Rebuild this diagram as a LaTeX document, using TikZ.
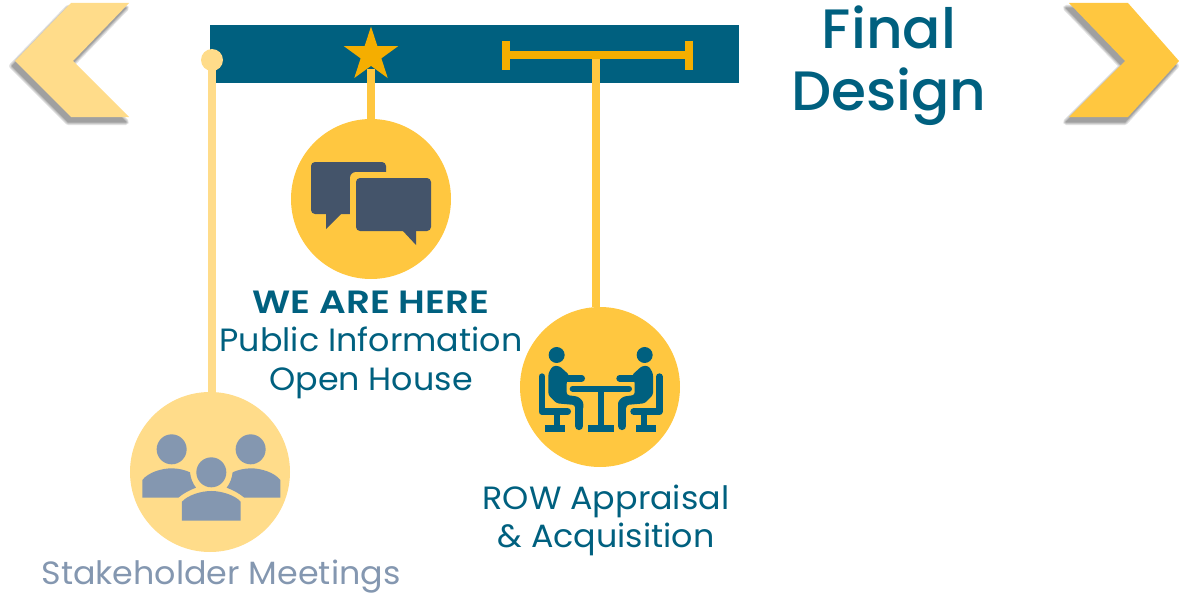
\documentclass[tikz,border=0pt]{standalone}
\usepackage{fontspec}
\setmainfont{Poppins}
\newfontfamily\bodyfont[FakeStretch=1.035]{Poppins}
\newfontfamily\strongfont[FakeStretch=1.16]{Poppins SemiBold}
\newfontfamily\headfont[FakeStretch=1.02]{Poppins Medium}
\usetikzlibrary{shapes.geometric}
\definecolor{teal}{HTML}{00607F}
\definecolor{gold}{HTML}{FFC740}
\definecolor{pale}{HTML}{FFDC8A}
\definecolor{amber}{HTML}{F5AE00}
\definecolor{slate}{HTML}{44546A}
\definecolor{steel}{HTML}{8497B0}
\tikzset{
  disc/.style={circle,fill=#1,minimum size=160pt,inner sep=0,outer sep=0},
  stem/.style={line width=8pt,draw=#1},
  label/.style={align=center,text=teal,inner sep=0,font=\fontsize{32.2}{38.5}\selectfont\bodyfont},
  person/.style={draw=teal,line cap=round,line join=round},
}
\newcommand{\chevshadow}[1]{%
  \foreach \w in {6,4,2,0.5}{%
    \begin{scope}[transparency group,opacity=0.11]
      \filldraw[line width=\w pt,draw=black,fill=black,line join=round] #1;
    \end{scope}}}
\newcommand{\seated}{%
  \fill[teal] (140,165) circle (24);
  \fill[teal,rounded corners=2.5pt] (115,220) -- (128,198) -- (148,198) -- (178,225) -- (170,245) -- (170,285) -- (205,290) -- (220,305) -- (220,330) -- (195,330) -- (195,315) -- (140,310) -- (115,285) -- cycle;
  \draw[person,line width=6.7pt] (172,235) -- (215,235);
  \draw[person,line width=8.3pt] (207.5,312) -- (207.5,378);
  \draw[person,line width=6.7pt] (96,230) -- (96,335) -- (173,335);
  \draw[teal,line width=5.7pt] (141.5,340) -- (141.5,380);
  \fill[teal] (105,375) rectangle (165,395);
}
\begin{document}
\begin{tikzpicture}[x=1pt,y=-1pt]
\useasboundingbox (0,0) rectangle (1179,594);
% chevrons
\begin{scope}[shift={(-3,5)}]
  \chevshadow{(71,3) -- (129,3) -- (73,61) -- (129,117) -- (71,117) -- (15,61) -- cycle}
\end{scope}
\fill[pale] (71,3) -- (129,3) -- (73,61) -- (129,117) -- (71,117) -- (15,61) -- cycle;
\begin{scope}[shift={(-3,5)}]
  \chevshadow{(1069,3) -- (1128,3) -- (1179,61) -- (1128,117) -- (1069,117) -- (1125,61) -- cycle}
\end{scope}
\fill[gold] (1069,3) -- (1128,3) -- (1179,61) -- (1128,117) -- (1069,117) -- (1125,61) -- cycle;
% timeline bar
\fill[teal] (210,25) rectangle (739,83);
% discs
\node[disc=pale] (meet) at (210,472) {};
\node[disc=gold] (open) at (371,199) {};
\node[disc=gold] (row) at (600,387) {};
% markers
\node[circle,fill=pale,minimum size=22pt,inner sep=0] (dot) at (212,60) {};
\node[star,star points=5,star point ratio=2.618,fill=amber,minimum size=57pt,inner sep=0,outer sep=0] (starm) at (371,55) {};
\coordinate (hub) at (596,59);
\coordinate (capl) at (506,55);
\coordinate (capr) at (689,55);
\coordinate (starfoot) at (371,69);
% connectors
\draw[stem=pale] (dot.center) -- (dot.center |- meet.north);
\draw[stem=gold] (starfoot) -- (open.north);
\draw[stem=gold] (hub) -- (hub |- row.north);
\draw[line width=8pt,draw=amber] (capl) -- (capr);
\draw[line width=8pt,draw=amber] (506,41) -- (506,70);
\draw[line width=8pt,draw=amber] (689,41) -- (689,70);
% speech bubbles
\fill[slate,rounded corners=4pt] (311,162) -- (386,162) -- (386,214) -- (311,214) -- cycle;
\fill[slate] (326,212) -- (326,229) -- (343,212) -- cycle;
\fill[gold,rounded corners=6pt] (350,172) rectangle (437,237);
\fill[slate] (402,230) -- (416,245) -- (416,230) -- cycle;
\fill[slate,rounded corners=4pt] (356,178) rectangle (431,231);
% meeting icon
\begin{scope}[shift={(510,300)},x=0.3333pt,y=-0.3333pt]
  \seated
  \draw[person,line width=6pt] (188,266) -- (357,266);
  \draw[teal,line width=6pt] (272,266) -- (272,380);
  \fill[teal] (233,375) rectangle (312,395);
\end{scope}
\begin{scope}[shift={(691.33,300)},x=-0.3333pt,y=-0.3333pt]
  \seated
\end{scope}
% people icon
\begin{scope}[shift={(120,385)},x=0.3333pt,y=-0.3333pt]
  \fill[steel] (155,193) circle (45) (392,193) circle (45) (274,262) circle (45);
  \fill[steel] (67,338) -- (67,285) .. controls (85,262) and (125,250) .. (155,250) .. controls (175,250) and (195,255) .. (210,262) .. controls (212,280) and (218,295) .. (228,308) .. controls (210,315) and (190,325) .. (175,338) -- cycle;
  \fill[steel] (481,338) -- (481,285) .. controls (463,262) and (423,250) .. (393,250) .. controls (373,250) and (353,255) .. (338,262) .. controls (336,280) and (330,295) .. (320,308) .. controls (338,315) and (358,325) .. (373,338) -- cycle;
  \fill[steel] (186,407) -- (186,350) .. controls (204,330) and (244,318) .. (274,318) .. controls (304,318) and (344,330) .. (362,350) -- (362,407) -- cycle;
\end{scope}
% labels
\node[label] (t1) at (371,344.5) {{\strongfont WE ARE HERE}\\Public Information\\Open House};
\node[label] (t2) at (606,520.5) {ROW Appraisal\\\& Acquisition};
\node[label,text=steel] (t3) at (221,577) {Stakeholder Meetings};
\node[label,font=\fontsize{55.5}{62}\selectfont\headfont] (t4) at (889,66) {Final\\Design};
\end{tikzpicture}
\end{document}
